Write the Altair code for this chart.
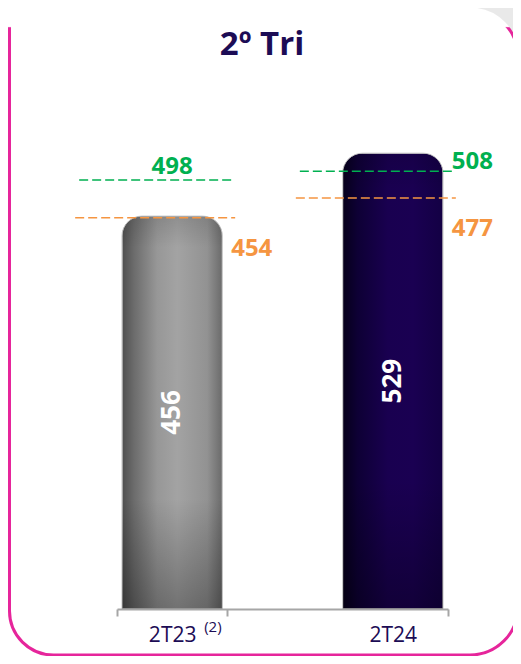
import altair as alt
import pandas as pd

# ---- data ----
categories = ["2T23", "2T24"]
values = [456, 529]
green_refs = [498, 508]
orange_refs = [454, 477]
title_text = "2º Tri"
footnote = "(2)"

df = pd.DataFrame({"cat": categories, "value": values,
                   "green": green_refs, "orange": orange_refs})

FONT = "Open Sans"
PINK = "#e6259b"
GREEN = "#00b050"
ORANGE = "#f59541"
NAVY = "#1c0c55"


def lin(stops, horizontal=True):
    return alt.LinearGradient(
        gradient="linear",
        stops=[alt.GradientStop(color=c, offset=o) for o, c in stops],
        x1=0, x2=1 if horizontal else 0, y1=0, y2=0 if horizontal else 1,
    )


grad_gray = lin([(0, "#4e4e4e"), (0.12, "#6c6c6c"), (0.35, "#979797"),
                 (0.55, "#a3a3a3"), (0.85, "#929292"), (1, "#6a6a6a")])
grad_navy = lin([(0, "#06001a"), (0.15, "#0e0035"), (0.45, "#190050"),
                 (0.7, "#1a0052"), (1, "#130044")])
grad_shade = lin([(0, "rgba(0,0,0,0.12)"), (0.08, "rgba(0,0,0,0)"),
                  (0.72, "rgba(0,0,0,0)"), (1, "rgba(0,0,0,0.3)")], horizontal=False)
grad_border = lin([(0, "#ffffff"), (0.027, "#ffffff"), (0.029, PINK), (1, PINK)],
                  horizontal=False)

xscale = alt.Scale(domain=categories, paddingInner=0.5, paddingOuter=0)
X = alt.X("cat:N", scale=xscale, sort=categories,
          axis=alt.Axis(title=None, labelAngle=0, labelFont=FONT, labelFontSize=21,
                        labelColor=NAVY, labelPadding=8, domainColor="#a6a6a6",
                        domainWidth=2, tickColor="#a6a6a6", tickWidth=2, tickSize=7,
                        tickBand="extent", zindex=1))
yscale = alt.Scale(domain=[0, 600])


def Y(field):
    return alt.Y(field, scale=yscale, axis=None)


base = alt.Chart(df)
deco = alt.Data(values=[{"k": 1}])

corner = alt.Chart(deco).mark_rect(fill="#e9e9e9").encode(
    x=alt.value(331), x2=alt.value(400), y=alt.value(-84), y2=alt.value(-24))

card = alt.Chart(deco).mark_rect(
    fill="white", stroke=grad_border, strokeWidth=3,
    cornerRadiusTopRight=48, cornerRadiusBottomRight=48, cornerRadiusBottomLeft=44,
).encode(x=alt.value(-107.5), x2=alt.value(401), y=alt.value(-83), y2=alt.value(563))

title = alt.Chart(deco).mark_text(
    font=FONT, fontSize=33, fontWeight="bold", color=NAVY,
    align="center", baseline="alphabetic"
).encode(x=alt.value(145), y=alt.value(-37), text=alt.value(title_text))

bar_kw = dict(width=alt.RelativeBandSize(0.91), cornerRadiusTopLeft=20,
              cornerRadiusTopRight=20)

bar1 = base.transform_filter(alt.datum.cat == categories[0]).mark_bar(
    fill=grad_gray, stroke="#c8c8c8", strokeWidth=1, **bar_kw
).encode(x=X, y=Y("value:Q"))
bar2 = base.transform_filter(alt.datum.cat == categories[1]).mark_bar(
    fill=grad_navy, stroke="#c8c8c8", strokeWidth=1, **bar_kw
).encode(x=X, y=Y("value:Q"))
shade = base.mark_bar(fill=grad_shade, **bar_kw).encode(x=X, y=Y("value:Q"))

green_rule = base.mark_rule(color=GREEN, strokeWidth=1.5, strokeDash=[9, 4],
                            xOffset=-93, x2Offset=63).encode(
    x=X, x2=alt.X2("cat"), y=Y("green:Q"))
orange_rule = base.mark_rule(color=ORANGE, strokeWidth=1.5, strokeDash=[9, 4],
                             xOffset=-97, x2Offset=63).encode(
    x=X, x2=alt.X2("cat"), y=Y("orange:Q"))

lab_kw = dict(font=FONT, fontSize=24, fontWeight="bold")
g1 = base.transform_filter(alt.datum.cat == categories[0]).mark_text(
    color=GREEN, baseline="alphabetic", dy=-6, **lab_kw
).encode(x=X, y=Y("green:Q"), text="green:Q")
g2 = base.transform_filter(alt.datum.cat == categories[1]).mark_text(
    color=GREEN, baseline="middle", align="left", dx=59, dy=-9, **lab_kw
).encode(x=X, y=Y("green:Q"), text="green:Q")
o_all = base.mark_text(
    color=ORANGE, baseline="middle", align="left", dx=59, dy=31, **lab_kw
).encode(x=X, y=Y("orange:Q"), text="orange:Q")

vals = base.transform_calculate(mid="datum.value / 2").mark_text(
    font=FONT, fontSize=26, fontWeight="bold", color="white", angle=270,
    baseline="middle", align="center"
).encode(x=X, y=Y("mid:Q"), text="value:Q")

sup = base.transform_filter(alt.datum.cat == categories[0]).mark_text(
    font=FONT, fontSize=15, color=NAVY, align="left", baseline="middle", dx=32
).encode(x=X, y=alt.value(535), text=alt.value(footnote))

chart = alt.layer(
    corner, card, title, bar1, bar2, shade, green_rule, orange_rule,
    g1, g2, o_all, vals, sup
).properties(
    width=331, height=517, autosize="none",
    padding={"left": 109, "top": 84, "right": 65, "bottom": 47},
    background="white",
).configure_view(stroke=None)

chart.save("out.html", embed_options={"renderer": "svg", "actions": False})
